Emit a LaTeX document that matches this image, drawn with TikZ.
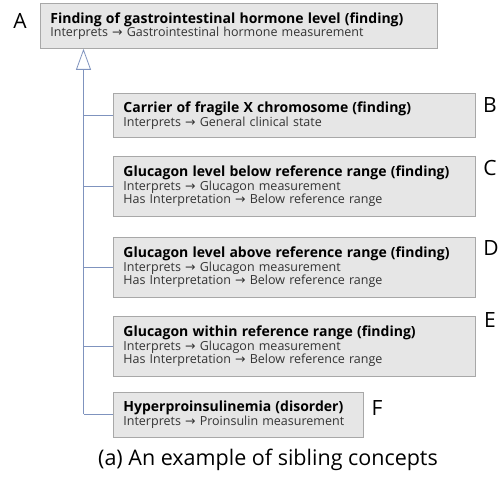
\documentclass[tikz,border=0pt]{standalone}
\usepackage{fontspec}
\setmainfont{Open Sans}
\newfontfamily\arrowfont{DejaVu Sans}
\usetikzlibrary{arrows.meta}
\definecolor{boxfill}{HTML}{E6E6E6}
\definecolor{boxline}{HTML}{A8A8A8}
\definecolor{treeline}{HTML}{7F93BE}
\definecolor{subtext}{HTML}{333333}
\newcommand{\interp}{ {\arrowfont\char"2192} }
\newcommand{\cname}[1]{{\fontsize{14}{15}\selectfont\bfseries\color{black}#1}}
\tikzset{
  concept/.style={draw=boxline,fill=boxfill,line width=0.8pt,anchor=north west,align=left,
    inner xsep=10pt,inner ysep=0pt,font=\fontsize{12.5}{13.5}\selectfont\color{subtext}},
  tag/.style={font=\fontsize{21}{21}\selectfont},
  isa/.style={draw=treeline,line width=0.8pt,-{Triangle[open,length=21pt,width=15pt,fill=white]}},
  branch/.style={draw=treeline,line width=0.8pt}
}
\begin{document}
\begin{tikzpicture}[x=1pt,y=-1pt]
\useasboundingbox (0,0) rectangle (499,478);
% parent concept
\node[concept,text width=377pt,minimum height=45pt] (A) at (40,3)
  {\cname{Finding of gastrointestinal hormone level (finding)}\\
   Interprets\interp Gastrointestinal hormone measurement};
% sibling concepts
\node[concept,text width=342pt,minimum height=44pt] (B) at (113,93)
  {\cname{Carrier of fragile X chromosome (finding)}\\
   Interprets\interp General clinical state};
\node[concept,text width=342pt,minimum height=60pt] (C) at (113,156)
  {\cname{Glucagon level below reference range (finding)}\\
   Interprets\interp Glucagon measurement\\
   Has Interpretation\interp Below reference range};
\node[concept,text width=342pt,minimum height=60pt] (D) at (113,237)
  {\cname{Glucagon level above reference range (finding)}\\
   Interprets\interp Glucagon measurement\\
   Has Interpretation\interp Below reference range};
\node[concept,text width=342pt,minimum height=60pt] (E) at (113,316)
  {\cname{Glucagon within reference range (finding)}\\
   Interprets\interp Glucagon measurement\\
   Has Interpretation\interp Below reference range};
\node[concept,text width=230pt,minimum height=45pt] (F) at (113,392)
  {\cname{Hyperproinsulinemia (disorder)}\\
   Interprets\interp Proinsulin measurement};
% letters
\node[tag] (labA) at (20,21) {A};
\node[tag] (labB) at (490,105) {B};
\node[tag] (labC) at (490,168) {C};
\node[tag] (labD) at (491,248) {D};
\node[tag] (labE) at (490,320) {E};
\node[tag] (labF) at (377,408) {F};
% is-a tree
\coordinate (trunk) at (83.5,414);
\draw[isa] (trunk) -- (trunk |- A.south);
\foreach \c in {B,C,D,E,F}
  \draw[branch] (trunk |- \c.west) -- (\c.west);
\node[font=\fontsize{21.5}{21.5}\selectfont] (cap) at (268,460) {(a) An example of sibling concepts};
\end{tikzpicture}
\end{document}
